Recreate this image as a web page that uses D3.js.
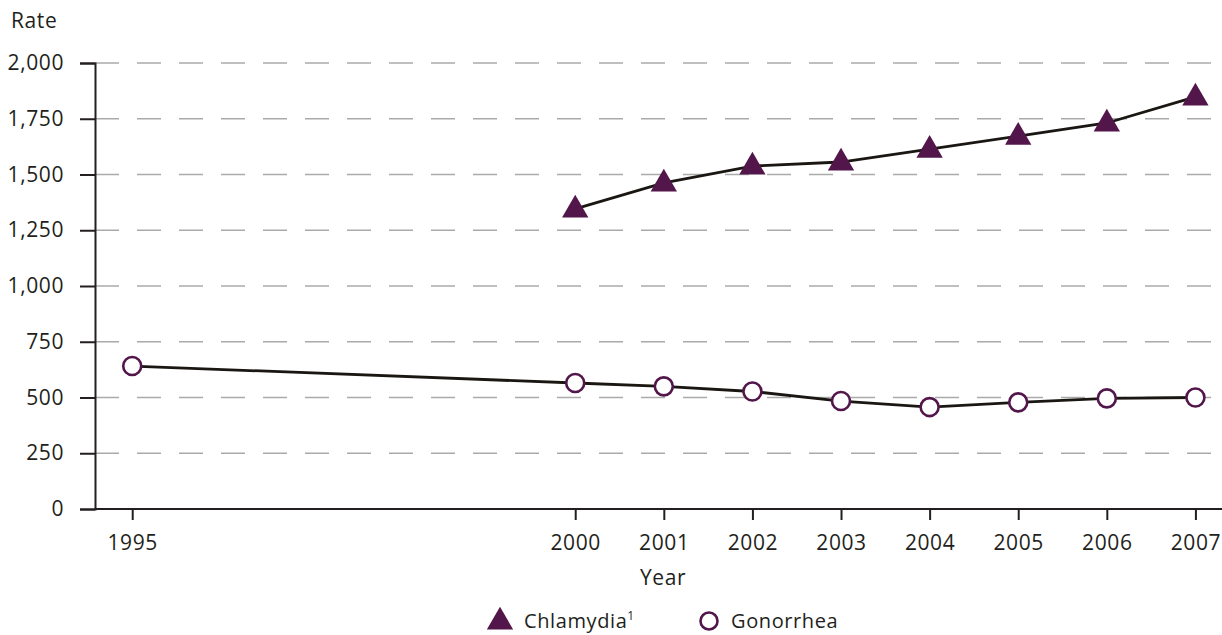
<!DOCTYPE html>
<html><head><meta charset="utf-8">
<script src="https://cdn.jsdelivr.net/npm/d3@7"></script>
<style>
body{margin:0;background:#fff;}
svg text{font-family:"Open Sans","Noto Sans",sans-serif;fill:#231f20;letter-spacing:0.6px;}
</style></head>
<body><svg id="c" width="1222" height="635"></svg>
<script>
const years = [1995, 2000, 2001, 2002, 2003, 2004, 2005, 2006, 2007];
const chlamydiaYears = [2000, 2001, 2002, 2003, 2004, 2005, 2006, 2007];
const chlamydia = [1346, 1462, 1538, 1556, 1614, 1672, 1731, 1848];
const gonorrhea = [641, 565, 550, 527, 484, 457, 478, 496, 500];
const yTicks = [0, 250, 500, 750, 1000, 1250, 1500, 1750, 2000];
const purple = "#52164a";

const svg = d3.select("#c");
const x = d3.scaleLinear().domain([1994.58, 2007.3]).range([95, 1222]);
const y = d3.scaleLinear().domain([0, 2000]).range([509, 63]);

// gridlines
svg.append("g").selectAll("line").data(yTicks.filter(d => d > 0)).join("line")
  .attr("x1", 95).attr("x2", 1222)
  .attr("y1", d => y(d)).attr("y2", d => y(d))
  .attr("stroke", "#aaaaaa").attr("stroke-width", 1.5)
  .attr("stroke-dasharray", "24,18");

// y axis
const ya = svg.append("g").attr("transform", "translate(95,0)")
  .call(d3.axisLeft(y).tickValues(yTicks).tickSize(15).tickPadding(16)
    .tickFormat(d3.format(",")));
ya.select(".domain").attr("stroke", "#231f20").attr("stroke-width", 2);
ya.selectAll(".tick line").attr("stroke", "#231f20").attr("stroke-width", 2);
ya.selectAll(".tick text").style("font-size", "21px").attr("fill", "#231f20");

// x axis
const xa = svg.append("g").attr("transform", "translate(0,509)")
  .call(d3.axisBottom(x).tickValues(years).tickSize(11).tickPadding(15)
    .tickFormat(d3.format("d")));
xa.select(".domain").attr("stroke", "#231f20").attr("stroke-width", 2)
  .attr("d", "M95,0H1222");
xa.selectAll(".tick line").attr("stroke", "#231f20").attr("stroke-width", 2);
xa.selectAll(".tick text").style("font-size", "21px").attr("fill", "#231f20");

svg.append("text").attr("x", 11).attr("y", 28).style("font-size", "21px").text("Rate");
svg.append("text").attr("x", 663).attr("y", 585).attr("text-anchor", "middle")
  .style("font-size", "21px").text("Year");

const line = d3.line().x(d => x(d[0])).y(d => y(d[1]));
const chl = chlamydiaYears.map((yr, i) => [yr, chlamydia[i]]);
const gon = years.map((yr, i) => [yr, gonorrhea[i]]);

svg.append("path").datum(chl).attr("d", line).attr("fill", "none")
  .attr("stroke", "#1a1712").attr("stroke-width", 2.8);
svg.append("path").datum(gon).attr("d", line).attr("fill", "none")
  .attr("stroke", "#1a1712").attr("stroke-width", 2.8);

const tri = d3.symbol().type(d3.symbolTriangle).size(300);
svg.append("g").selectAll("path").data(chl).join("path")
  .attr("d", tri)
  .attr("transform", d => `translate(${x(d[0])},${y(d[1]) + 1})`)
  .attr("fill", purple);

svg.append("g").selectAll("circle").data(gon).join("circle")
  .attr("cx", d => x(d[0])).attr("cy", d => y(d[1])).attr("r", 9)
  .attr("fill", "#fff").attr("stroke", purple).attr("stroke-width", 2.6);

// legend
svg.append("path").attr("d", tri).attr("transform", "translate(500,622)").attr("fill", purple);
const lt = svg.append("text").attr("x", 524).attr("y", 628).style("font-size", "20px").text("Chlamydia");
lt.append("tspan").attr("dy", -8).style("font-size", "12px").text("1");
svg.append("circle").attr("cx", 709).attr("cy", 621).attr("r", 8.5)
  .attr("fill", "#fff").attr("stroke", purple).attr("stroke-width", 2.6);
svg.append("text").attr("x", 731).attr("y", 628).style("font-size", "20px").text("Gonorrhea");
</script></body></html>
